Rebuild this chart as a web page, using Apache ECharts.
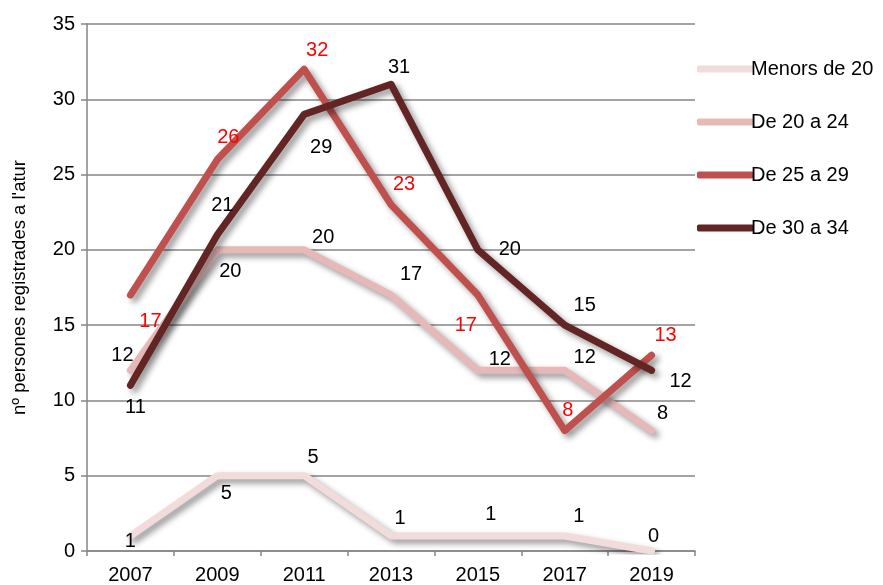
<!DOCTYPE html>
<html>
<head>
<meta charset="utf-8">
<script src="https://cdn.jsdelivr.net/npm/echarts@6/dist/echarts.min.js"></script>
<style>
  html, body { margin: 0; padding: 0; background: #fff; }
  #chart { width: 883px; height: 585px; }
</style>
</head>
<body>
<div id="chart"></div>
<script>
// Years on the horizontal axis
const years = ['2007', '2009', '2011', '2013', '2015', '2017', '2019'];

// Registered unemployed people by age group
const seriesNames = ['Menors de 20', 'De 20 a 24', 'De 25 a 29', 'De 30 a 34'];
const menors20 = [1, 5, 5, 1, 1, 1, 0];
const de20a24 = [12, 20, 20, 17, 12, 12, 8];
const de25a29 = [17, 26, 32, 23, 17, 8, 13];
const de30a34 = [11, 21, 29, 31, 20, 15, 12];

// Value-axis ticks
const yTicks = { min: 0, max: 35, step: 5 };

// Styling per series
const lineColors = ['#f2dcdb', '#e6b9b8', '#c0504d', '#632523'];
const labelColors = ['#000000', '#000000', '#ff0000', '#000000'];

// Label nudges (px) so the value labels sit beside the lines
const labelOffsets = [
  [[0, 6], [9, 18], [9, -18], [9, -17], [13, -21], [14, -19], [2, -15]],
  [[-8, -15], [13, 22], [19, -12], [20, -21], [22, -11], [20, -13], [11, -17]],
  [[20, 26], [11, -22], [13, -19], [13, -20], [-12, 30], [3, -20], [14, -20]],
  [[5, 22], [5, -29], [17, 33], [8, -17], [32, 0], [20, -20], [29, 11]]
];

const allValues = [menors20, de20a24, de25a29, de30a34];
const font = 'Liberation Sans, Arial, sans-serif';

const chart = echarts.init(document.getElementById('chart'), null, { renderer: 'canvas' });

const series = allValues.map((vals, s) => ({
  name: seriesNames[s],
  type: 'line',
  color: lineColors[s],
  symbol: 'circle',
  symbolSize: 1,
  showSymbol: true,
  itemStyle: { color: lineColors[s] },
  lineStyle: {
    width: 7,
    color: lineColors[s],
    cap: 'round',
    join: 'round',
    shadowColor: 'rgba(0,0,0,0.42)',
    shadowBlur: 6,
    shadowOffsetX: 4,
    shadowOffsetY: 4
  },
  label: {
    show: true,
    position: 'inside',
    color: labelColors[s],
    fontFamily: font,
    fontSize: 20
  },
  emphasis: { disabled: true },
  animation: false,
  data: vals.map((v, i) => ({
    value: v,
    label: { offset: labelOffsets[s][i] }
  }))
}));

chart.setOption({
  backgroundColor: '#ffffff',
  animation: false,
  grid: { left: 87, right: 188, top: 24, bottom: 32, containLabel: false },
  legend: {
    orient: 'vertical',
    left: 692,
    top: 54,
    itemWidth: 57,
    itemHeight: 7,
    itemGap: 33,
    icon: 'roundRect',
    selectedMode: false,
    textStyle: { fontFamily: font, fontSize: 20, color: '#000', padding: [0, 0, 0, -8] },
    lineStyle: { shadowBlur: 0, shadowOffsetX: 0, shadowOffsetY: 0 },
    itemStyle: { shadowBlur: 0, shadowOffsetX: 0, shadowOffsetY: 0 },
    data: seriesNames
  },
  xAxis: {
    type: 'category',
    data: years,
    boundaryGap: true,
    axisLine: { show: true, lineStyle: { color: '#868686', width: 1.5 } },
    axisTick: { show: true, length: 5, alignWithLabel: false, lineStyle: { color: '#868686', width: 1.5 } },
    axisLabel: { fontFamily: font, fontSize: 20, color: '#000', margin: 14 },
    splitLine: { show: false }
  },
  yAxis: {
    type: 'value',
    min: yTicks.min,
    max: yTicks.max,
    interval: yTicks.step,
    name: "nº persones registrades a l'atur",
    nameLocation: 'middle',
    nameGap: 58,
    nameTextStyle: { fontFamily: font, fontSize: 18.5, color: '#000' },
    axisLine: { show: true, lineStyle: { color: '#868686', width: 1.5 } },
    axisTick: { show: true, length: 6, lineStyle: { color: '#868686', width: 1.5 } },
    axisLabel: { fontFamily: font, fontSize: 20, color: '#000', margin: 12 },
    splitLine: { show: true, lineStyle: { color: '#868686', width: 1.5 } }
  },
  series: series
});
</script>
</body>
</html>
